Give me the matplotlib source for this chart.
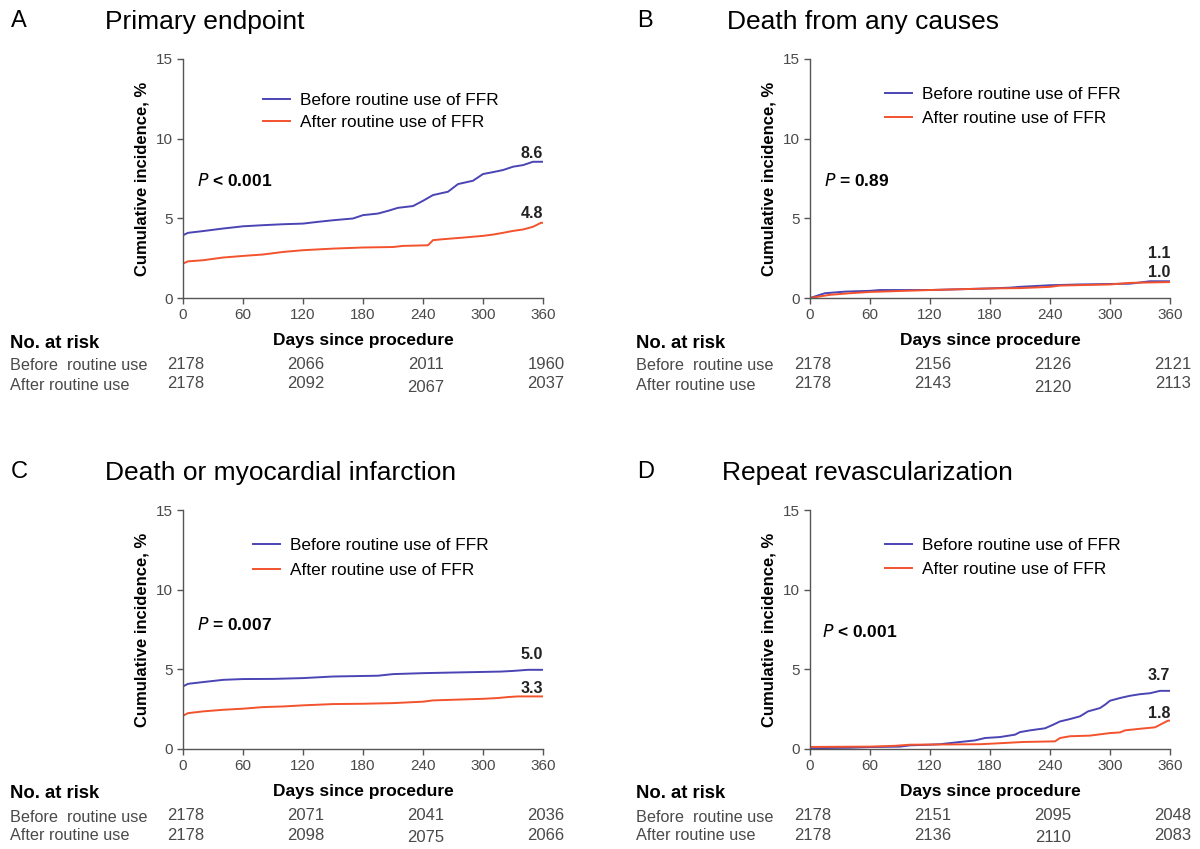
import matplotlib
matplotlib.use('agg')
import matplotlib.pyplot as plt
import numpy as np

plt.rcParams['font.family'] = ['Liberation Sans', 'DejaVu Sans']

# ---- data ----
panel_letters = ['A', 'B', 'C', 'D']
panel_titles = ['Primary endpoint', 'Death from any causes',
                'Death or myocardial infarction', 'Repeat revascularization']
p_texts = ['< 0.001', '= 0.89', '= 0.007', '< 0.001']
end_labels_before = ['8.6', '1.1', '5.0', '3.7']
end_labels_after = ['4.8', '1.0', '3.3', '1.8']

risk_days = [0, 120, 240, 360]
risk_before = [[2178, 2066, 2011, 1960], [2178, 2156, 2126, 2121],
               [2178, 2071, 2041, 2036], [2178, 2151, 2095, 2048]]
risk_after = [[2178, 2092, 2067, 2037], [2178, 2143, 2120, 2113],
              [2178, 2098, 2075, 2066], [2178, 2136, 2110, 2083]]

# A - primary endpoint
a_days_before = [0, 0, 5, 20, 40, 60, 80, 100, 120, 135, 150, 170, 180, 195, 205, 215, 230,
                 240, 250, 265, 275, 290, 300, 310, 320, 330, 340, 350, 360]
a_vals_before = [0, 3.94, 4.09, 4.2, 4.36, 4.5, 4.57, 4.63, 4.67, 4.78, 4.88, 4.99, 5.2, 5.3,
                 5.47, 5.66, 5.77, 6.1, 6.46, 6.67, 7.15, 7.36, 7.78, 7.9, 8.03, 8.24, 8.34,
                 8.55, 8.55]
a_days_after = [0, 0, 5, 20, 40, 60, 80, 100, 120, 150, 180, 210, 220, 245, 250, 260, 280,
                300, 310, 320, 330, 340, 350, 358, 360]
a_vals_after = [0, 2.16, 2.3, 2.37, 2.54, 2.64, 2.73, 2.89, 3.0, 3.1, 3.17, 3.2, 3.27, 3.31,
                3.63, 3.69, 3.79, 3.9, 3.98, 4.09, 4.21, 4.3, 4.47, 4.72, 4.72]

# B - death from any causes
b_days_before = [0, 5, 10, 15, 35, 60, 70, 120, 150, 180, 200, 210, 240, 270, 320, 340, 360]
b_vals_before = [0, 0.1, 0.2, 0.3, 0.4, 0.45, 0.5, 0.5, 0.55, 0.6, 0.65, 0.7, 0.8, 0.85,
                 0.9, 1.05, 1.05]
b_days_after = [0, 10, 20, 40, 60, 80, 120, 150, 180, 210, 240, 250, 300, 320, 360]
b_vals_after = [0, 0.1, 0.2, 0.3, 0.38, 0.42, 0.5, 0.55, 0.6, 0.62, 0.7, 0.78, 0.85, 0.95,
                1.0]

# C - death or MI
c_days_before = [0, 0, 5, 20, 40, 60, 90, 120, 150, 195, 210, 240, 270, 318, 330, 345, 360]
c_vals_before = [0, 3.93, 4.09, 4.2, 4.34, 4.39, 4.4, 4.45, 4.55, 4.6, 4.7, 4.76, 4.8, 4.86,
                 4.9, 4.97, 4.97]
c_days_after = [0, 0, 5, 20, 40, 60, 80, 100, 120, 150, 180, 210, 240, 250, 270, 300, 315,
                325, 335, 360]
c_vals_after = [0, 2.09, 2.25, 2.36, 2.46, 2.53, 2.63, 2.67, 2.74, 2.82, 2.84, 2.88, 2.97,
                3.05, 3.09, 3.15, 3.2, 3.26, 3.3, 3.3]

# D - repeat revascularization
d_days_before = [0, 40, 60, 90, 100, 120, 130, 150, 165, 175, 190, 205, 210, 220, 235, 243,
                 250, 260, 270, 278, 290, 295, 300, 310, 320, 330, 340, 350, 360]
d_vals_before = [0.05, 0.08, 0.12, 0.15, 0.23, 0.27, 0.3, 0.44, 0.54, 0.69, 0.75, 0.9, 1.06,
                 1.17, 1.3, 1.52, 1.73, 1.88, 2.05, 2.36, 2.57, 2.78, 3.03, 3.2, 3.34, 3.44,
                 3.5, 3.65, 3.65]
d_days_after = [0, 60, 85, 100, 170, 180, 213, 245, 250, 260, 280, 300, 310, 315, 330, 345,
                350, 358, 360]
d_vals_after = [0.13, 0.15, 0.2, 0.27, 0.3, 0.33, 0.44, 0.48, 0.69, 0.8, 0.84, 1.0, 1.04,
                1.17, 1.27, 1.36, 1.52, 1.78, 1.78]

series = [
    (a_days_before, a_vals_before, a_days_after, a_vals_after),
    (b_days_before, b_vals_before, b_days_after, b_vals_after),
    (c_days_before, c_vals_before, c_days_after, c_vals_after),
    (d_days_before, d_vals_before, d_days_after, d_vals_after),
]

# ---- layout (pixels of a 1200x849 canvas) ----
W, H = 1200, 849
blue = '#4A44B4'
red = '#F3522D'
grey_txt = '#4a4a4a'

ax_left_px = [183, 810, 183, 810]
ax_top_px = [59, 59, 510, 510]
ax_bot_px = [298, 298, 749, 749]
legend_anchor = [(0.222, 0.856), (0.208, 0.881), (0.194, 0.885), (0.208, 0.885)]
legend_spacing = [0.36, 0.47, 0.58, 0.55]
p_pos = [(14, 7.4), (14, 7.4), (14, 7.8), (12, 7.35)]
end_y_before = [9.06, 2.8, 5.9, 4.6]
end_y_after = [5.3, 1.6, 3.8, 2.25]
table_left_px = [10, 636, 10, 636]
title_left_px = [105, 727, 105, 722]


def fx(px):
    return px / W


def fy(py):
    return 1 - py / H


fig = plt.figure(figsize=(12, 8.49), dpi=100)

for i in range(4):
    left = ax_left_px[i]
    top = ax_top_px[i]
    bot = ax_bot_px[i]
    ax = fig.add_axes([fx(left), fy(bot), 360 / W, (bot - top) / H])

    db, vb, da, va = series[i]
    ax.plot(db, vb, color=blue, lw=1.4, label='Before routine use of FFR')
    ax.plot(da, va, color=red, lw=1.4, label='After routine use of FFR')

    ax.set_xlim(0, 360)
    ax.set_ylim(0, 15)
    ax.set_xticks(np.arange(0, 361, 60))
    ax.set_yticks([0, 5, 10, 15])
    for s in ['top', 'right']:
        ax.spines[s].set_visible(False)
    for s in ['left', 'bottom']:
        ax.spines[s].set_color('#555555')
        ax.spines[s].set_linewidth(1.0)
    ax.tick_params(colors='#555555', labelcolor=grey_txt, labelsize=11, length=4, width=1.0,
                   pad=3)
    ax.set_ylabel('Cumulative incidence, %', fontsize=12, fontweight='bold', labelpad=5)
    ax.set_xlabel('Days since procedure', fontsize=12.5, fontweight='bold', labelpad=8)

    ax.legend(loc='upper left', bbox_to_anchor=legend_anchor[i], frameon=False,
              fontsize=12.4, handlelength=1.57, handletextpad=0.6,
              labelspacing=legend_spacing[i], borderpad=0, borderaxespad=0)

    ax.text(p_pos[i][0], p_pos[i][1], r'$\bf{\it{P}}$ ' + p_texts[i], fontsize=12.5,
            fontweight='bold', va='center', ha='left')

    ax.text(349, end_y_before[i], end_labels_before[i], fontsize=11.5, fontweight='bold',
            ha='center', va='center', color='#222222')
    ax.text(349, end_y_after[i], end_labels_after[i], fontsize=11.5, fontweight='bold',
            ha='center', va='center', color='#222222')

    # panel titles
    fig.text(fx(table_left_px[i] + 1), fy(top - 38), panel_letters[i], fontsize=17,
             va='center', ha='left')
    fig.text(fx(title_left_px[i]), fy(top - 37), panel_titles[i], fontsize=19,
             va='center', ha='left')

    # number at risk table
    tl = table_left_px[i]
    fig.text(fx(tl), fy(bot + 45), 'No. at risk', fontsize=13.3, fontweight='bold',
             va='center', ha='left')
    fig.text(fx(tl), fy(bot + 68), 'Before  routine use', fontsize=11.7, color=grey_txt,
             va='center', ha='left')
    fig.text(fx(tl), fy(bot + 87), 'After routine use', fontsize=11.7, color=grey_txt,
             va='center', ha='left')
    for k, d in enumerate(risk_days):
        xp = left + d + 3
        fig.text(fx(xp), fy(bot + 67), str(risk_before[i][k]), fontsize=12, color=grey_txt,
                 va='center', ha='center')
        fig.text(fx(xp), fy(bot + 86 + (3 if k == 2 else 0)), str(risk_after[i][k]),
                 fontsize=12, color=grey_txt, va='center', ha='center')

fig.savefig('out.png', dpi=100)
